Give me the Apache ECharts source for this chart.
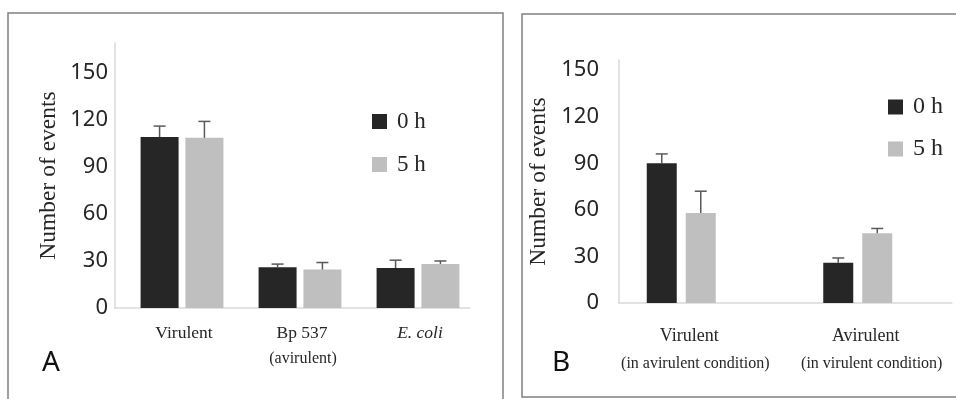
<!DOCTYPE html>
<html>
<head>
<meta charset="utf-8">
<script src="https://cdn.jsdelivr.net/npm/echarts@6/dist/echarts.min.js"></script>
<style>html,body{margin:0;padding:0;background:#fff;}#c{width:956px;height:399px;}</style>
</head>
<body>
<div id="c"></div>
<script>
// ---- Data ----
const categoriesA = ['Virulent', 'Bp 537', 'E. coli'];
const subLabelsA = ['', '(avirulent)', ''];
const italicCategories = ['E. coli'];
const meanA0 = [109, 26, 25.5];
const errA0 = [7, 2, 5];
const meanA5 = [108.5, 24.5, 28];
const errA5 = [10.5, 4.5, 2];

const categoriesB = ['Virulent', 'Avirulent'];
const subLabelsB = ['(in avirulent condition)', '(in virulent condition)'];
const meanB0 = [90, 26];
const errB0 = [6, 3];
const meanB5 = [58, 45];
const errB5 = [14, 3];

const seriesNames = ['0 h', '5 h'];
const yTicks = [0, 30, 60, 90, 120, 150];
const panelLabels = ['A', 'B'];

// ---- Style ----
const C0 = '#262626', C5 = '#bfbfbf', ERR = '#595959', AX = '#d9d9d9', TXT = '#262626';
const SERIF = '"Liberation Serif", "DejaVu Serif", serif';
const SANS = '"Noto Sans", "Open Sans", sans-serif';

const chart = echarts.init(document.getElementById('c'));

function catFormatter(subs) {
  return function (value, index) {
    const main = italicCategories.indexOf(value) >= 0 ? '{i|' + value + '}' : '{m|' + value + '}';
    return subs[index] ? main + '\n{s|' + subs[index] + '}' : main;
  };
}
function richStyles(mainSize, subSize, subLH, padM, padS) {
  return {
    m: {fontFamily: SERIF, fontSize: mainSize, color: TXT, lineHeight: 24, padding: [0, 0, 0, padM]},
    i: {fontFamily: SERIF, fontSize: mainSize, fontStyle: 'italic', color: TXT, lineHeight: 24, padding: [0, 0, 0, padM]},
    s: {fontFamily: SERIF, fontSize: subSize, color: TXT, lineHeight: subLH, padding: [0, 0, 0, padS]}
  };
}
function errSeries(name, means, errs, xi, offset) {
  return {
    name: name, type: 'custom', xAxisIndex: xi, yAxisIndex: xi, z: 5,
    data: means.map((m, i) => [i, m, errs[i]]),
    encode: {x: 0, y: 1},
    renderItem: function (params, api) {
      const base = api.coord([api.value(0), api.value(1)]);
      const top = api.coord([api.value(0), api.value(1) + api.value(2)]);
      const cx = base[0] + offset;
      const st = {stroke: ERR, lineWidth: 1.5};
      return {type: 'group', children: [
        {type: 'line', shape: {x1: cx, y1: base[1], x2: cx, y2: top[1]}, style: st},
        {type: 'line', shape: {x1: cx - 6, y1: top[1], x2: cx + 6, y2: top[1]}, style: st}
      ]};
    },
    tooltip: {show: false}
  };
}
const yLabelFmt = v => (yTicks.indexOf(v) >= 0 ? String(v) : '');

const bwA = 38, gapA = 0.18, offA = (bwA + bwA * gapA) / 2;
const bwB = 30, gapB = 0.30, offB = (bwB + bwB * gapB) / 2;

const hiddenY = (max) => ({type: 'value', min: 0, max: max, interval: 30, show: false});
const lineX = (gi, cats) => ({type: 'category', gridIndex: gi, data: cats,
  axisLine: {show: true, lineStyle: {color: AX, width: 1.5}}, axisTick: {show: false}, axisLabel: {show: false}});
const labelY = (gi, max, margin, gap) => ({type: 'value', gridIndex: gi, min: 0, max: max, interval: 30,
  axisLine: {show: true, lineStyle: {color: AX, width: 1.5}}, axisTick: {show: false}, splitLine: {show: false},
  axisLabel: {formatter: yLabelFmt, showMaxLabel: false, margin: margin, fontFamily: SANS, fontSize: 22, color: TXT},
  name: 'Number of events', nameLocation: 'middle', nameGap: gap,
  nameTextStyle: {fontFamily: SERIF, fontSize: 23.5, color: TXT}});

chart.setOption({
  animation: false,
  backgroundColor: '#fff',
  graphic: [
    {type: 'rect', shape: {x: 8, y: 13, width: 495, height: 420}, style: {fill: 'none', stroke: '#808080', lineWidth: 1.5}},
    {type: 'rect', shape: {x: 522, y: 14, width: 460, height: 383}, style: {fill: 'none', stroke: '#808080', lineWidth: 1.5}}
  ],
  title: [
    {text: panelLabels[0], left: 42, top: 349, textStyle: {fontFamily: SANS, fontSize: 28, fontWeight: 'normal', color: '#111'}, padding: 0},
    {text: panelLabels[1], left: 552, top: 349, textStyle: {fontFamily: SANS, fontSize: 28, fontWeight: 'normal', color: '#111'}, padding: 0}
  ],
  legend: [
    {data: seriesNames, orient: 'vertical', left: 372, top: 110, icon: 'rect', itemWidth: 15, itemHeight: 15, itemGap: 20,
      padding: 0, textStyle: {fontFamily: SERIF, fontSize: 23, color: TXT, lineHeight: 16, padding: [0, 0, 0, 5]}},
    {data: seriesNames, orient: 'vertical', left: 888, top: 95, icon: 'rect', itemWidth: 15, itemHeight: 15, itemGap: 18,
      padding: 0, textStyle: {fontFamily: SERIF, fontSize: 24, color: TXT, lineHeight: 16, padding: [0, 0, 0, 5]}}
  ],
  grid: [
    {left: 123, top: 43, width: 354, height: 265},
    {left: 115, top: 43, width: 355, height: 265},
    {left: 593, top: 60, width: 353, height: 243},
    {left: 619, top: 60, width: 333, height: 243}
  ],
  xAxis: [
    {type: 'category', gridIndex: 0, data: categoriesA, axisLine: {show: false}, axisTick: {show: false},
      axisLabel: {interval: 0, margin: 13, formatter: catFormatter(subLabelsA), rich: richStyles(17.5, 16, 28, 4, 6)}},
    lineX(1, categoriesA),
    {type: 'category', gridIndex: 2, data: categoriesB, axisLine: {show: false}, axisTick: {show: false},
      axisLabel: {interval: 0, margin: 21, formatter: catFormatter(subLabelsB), rich: richStyles(18, 16, 32, 16, 28)}},
    lineX(3, categoriesB)
  ],
  yAxis: [
    Object.assign(hiddenY(169), {gridIndex: 0}),
    labelY(1, 169, 7, 54),
    Object.assign(hiddenY(156.5), {gridIndex: 2}),
    labelY(3, 156.5, 20, 68)
  ],
  series: [
    {name: seriesNames[0], type: 'bar', xAxisIndex: 0, yAxisIndex: 0, data: meanA0, barWidth: bwA, barGap: (gapA * 100) + '%', itemStyle: {color: C0}},
    {name: seriesNames[1], type: 'bar', xAxisIndex: 0, yAxisIndex: 0, data: meanA5, barWidth: bwA, barGap: (gapA * 100) + '%', itemStyle: {color: C5}},
    errSeries(seriesNames[0], meanA0, errA0, 0, -offA),
    errSeries(seriesNames[1], meanA5, errA5, 0, offA),
    {name: seriesNames[0], type: 'bar', xAxisIndex: 2, yAxisIndex: 2, data: meanB0, barWidth: bwB, barGap: (gapB * 100) + '%', itemStyle: {color: C0}},
    {name: seriesNames[1], type: 'bar', xAxisIndex: 2, yAxisIndex: 2, data: meanB5, barWidth: bwB, barGap: (gapB * 100) + '%', itemStyle: {color: C5}},
    errSeries(seriesNames[0], meanB0, errB0, 2, -offB),
    errSeries(seriesNames[1], meanB5, errB5, 2, offB)
  ]
});
</script>
</body>
</html>
